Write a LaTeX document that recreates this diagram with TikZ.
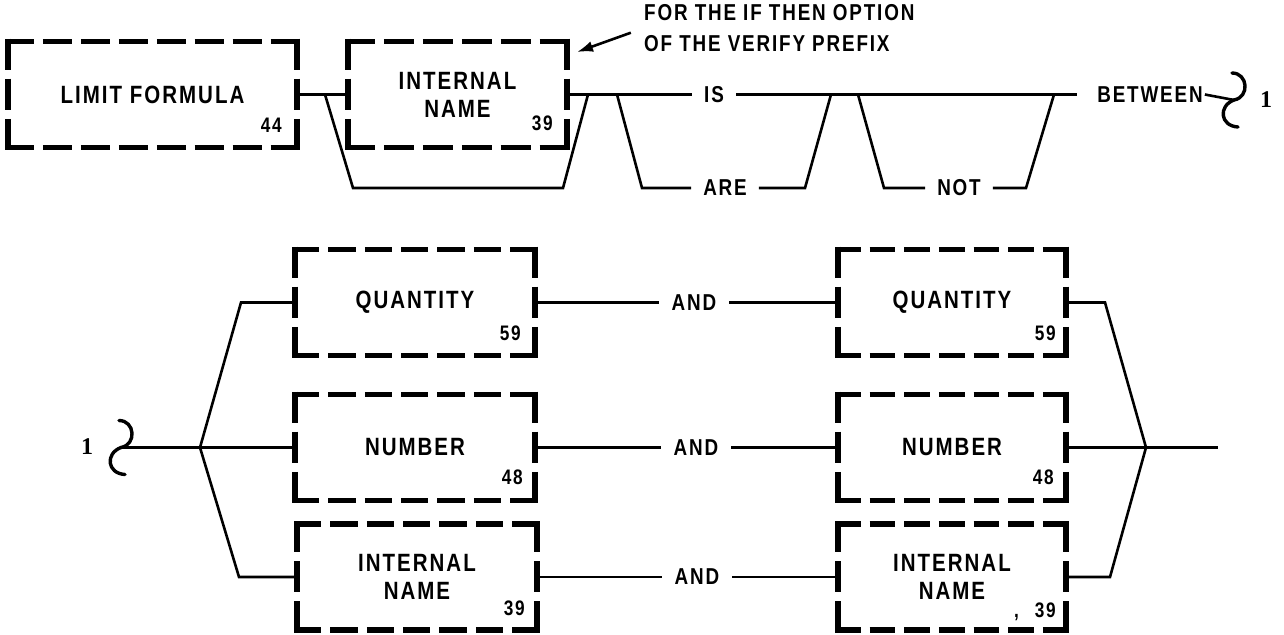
\documentclass[tikz,border=0pt]{standalone}
\usepackage{fontspec}
\setmainfont[FakeStretch=0.82, LetterSpace=8]{Liberation Sans}
\newfontfamily\onefont{Liberation Serif}
\usetikzlibrary{arrows.meta, calc}

\tikzset{
  box/.style={minimum height=106pt, inner sep=0pt, align=center,
    font=\bfseries\fontsize{25}{28}\selectfont},
  dbox/.style={line width=5.5pt},
  num/.style={anchor=base east, inner sep=0pt, font=\bfseries\fontsize{21}{21}\selectfont},
  word/.style={inner xsep=12pt, inner ysep=0pt, font=\bfseries\fontsize{23}{23}\selectfont},
  wire/.style={line width=2.6pt},
  hook/.pic={\draw[line width=3.4pt, line cap=round] (-2,-27) .. controls (14,-27) and (16,-3) .. (0,0) .. controls (-16,6) and (-14,26) .. (4,27);}
}

\begin{document}
\begin{tikzpicture}[x=1pt, y=-1pt]
  \useasboundingbox (0,0) rectangle (1284,634);

  % verify line
  \node[box, minimum width=289pt] (lim) at (152.5,94.5) {LIMIT FORMULA};
  \node[num] (limnum) at (282,132) {44};
  \node[box, minimum width=219pt] (iname) at (457.5,94.5) {INTERNAL\\NAME};
  \node[num] (inum) at (553,130) {39};
  \node[anchor=west, align=left, inner sep=0pt, font=\bfseries\fontsize{23}{31}\selectfont] (note) at (644,28) {FOR THE IF THEN OPTION\\OF THE VERIFY PREFIX};
  \coordinate (tip) at (577,52);

  \node[word] (is) at (714,94.5) {IS};
  \node[word] (are) at (725,188) {ARE};
  \node[word] (not) at (959,188) {NOT};
  \node[word, inner xsep=2pt] (btw) at (1150,94.5) {BETWEEN};
  \node[inner sep=0pt, font=\onefont\bfseries\fontsize{24}{24}\selectfont] (one) at (1266,100) {1};

  \coordinate (b1) at (325,94.5);
  \coordinate (b2) at (353,188);
  \coordinate (b3) at (563,188);
  \coordinate (b4) at (588,94.5);
  \coordinate (a1) at (617,94.5);
  \coordinate (a2) at (642,188);
  \coordinate (a3) at (805,188);
  \coordinate (a4) at (831,94.5);
  \coordinate (n1) at (858,94.5);
  \coordinate (n2) at (884,188);
  \coordinate (n3) at (1026,188);
  \coordinate (n4) at (1054,94.5);
  \coordinate (j1) at (1234,100);

  \draw[wire] (lim.east) -- (iname.west);
  \draw[wire] (b1) -- (b2) -- (b3) -- (b4);
  \draw[wire] (iname.east) -- (is.west);
  \draw[wire, shorten >=18pt] (is.east) -- (btw.west);
  \draw[wire] (a1) -- (a2) -- (are.west);
  \draw[wire] (are.east) -- (a3) -- (a4);
  \draw[wire] (n1) -- (n2) -- (not.west);
  \draw[wire] (not.east) -- (n3) -- (n4);
  \draw[wire] (btw.east) -- (j1);
  \pic at (j1) {hook};
  \draw[wire, -{Latex[length=16pt, width=11pt]}, shorten <=14pt] (note.west) -- (tip);

  % between part
  \node[inner sep=0pt, font=\onefont\bfseries\fontsize{24}{24}\selectfont] (one2) at (87,447) {1};
  \node[box, minimum width=240pt] (qa) at (415,302.5) {QUANTITY};
  \node[num] (qanum) at (521,340) {59};
  \node[box, minimum width=240pt] (na) at (415,447.5) {NUMBER};
  \node[num] (nanum) at (523,484) {48};
  \node[box, minimum width=240pt] (ia) at (417,577) {INTERNAL\\NAME};
  \node[num] (ianum) at (525,615) {39};

  \node[word, inner xsep=13pt] (and1) at (694,302.5) {AND};
  \node[word, inner xsep=13pt] (and2) at (696,447.5) {AND};
  \node[word, inner xsep=13pt] (and3) at (697,577) {AND};

  \node[box, minimum width=228pt] (qb) at (952,302.5) {QUANTITY};
  \node[num] (qbnum) at (1056,340) {59};
  \node[box, minimum width=228pt] (nb) at (952,447.5) {NUMBER};
  \node[num] (nbnum) at (1054,484) {48};
  \node[box, minimum width=228pt] (ib) at (952,577) {INTERNAL\\NAME};
  \node[num] (ibnum) at (1056,617) {,\hspace{16pt}39};

  \coordinate (j2) at (121,447.5);
  \coordinate (br) at (200,447.5);
  \coordinate (bu) at (241,302.5);
  \coordinate (bd) at (239,577);
  \coordinate (mu) at (1105,302.5);
  \coordinate (md) at (1110,577);
  \coordinate (mg) at (1146,447.5);
  \coordinate (out) at (1218,447.5);

  \pic at (j2) {hook};
  \draw[wire] (j2) -- (br) -- (na.west);
  \draw[wire] (br) -- (bu) -- (qa.west);
  \draw[wire] (br) -- (bd) -- (ia.west);
  \draw[wire] (qa.east) -- (and1.west);
  \draw[wire] (and1.east) -- (qb.west);
  \draw[wire] (na.east) -- (and2.west);
  \draw[wire] (and2.east) -- (nb.west);
  \draw[wire] (ia.east) -- (and3.west);
  \draw[wire] (and3.east) -- (ib.west);
  \draw[wire] (qb.east) -- (mu) -- (mg);
  \draw[wire] (ib.east) -- (md) -- (mg);
  \draw[wire] (nb.east) -- (mg) -- (out);

  % dashed frames, solid at the corners
  \foreach \b/\w/\h in {lim/289/106, iname/219/106, qa/240/106, na/240/106,
                        ia/240/106, qb/228/106, nb/228/106, ib/228/106} {
    \pgfmathsetmacro\cntw{round((\w+14.5)/37)}
    \pgfmathsetmacro\dashw{(\w+5.5-(\cntw-1)*9)/\cntw}
    \pgfmathsetmacro\cnth{round((\h+14.5)/37)}
    \pgfmathsetmacro\dashh{(\h+5.5-(\cnth-1)*9)/\cnth}
    \draw[dbox, dash pattern=on \dashw pt off 9pt]
      ([xshift=-2.75pt]\b.north west) -- ([xshift=2.75pt]\b.north east)
      ([xshift=-2.75pt]\b.south west) -- ([xshift=2.75pt]\b.south east);
    \draw[dbox, dash pattern=on \dashh pt off 9pt]
      ([yshift=2.75pt]\b.north west) -- ([yshift=-2.75pt]\b.south west)
      ([yshift=2.75pt]\b.north east) -- ([yshift=-2.75pt]\b.south east);
  }
\end{tikzpicture}
\end{document}
